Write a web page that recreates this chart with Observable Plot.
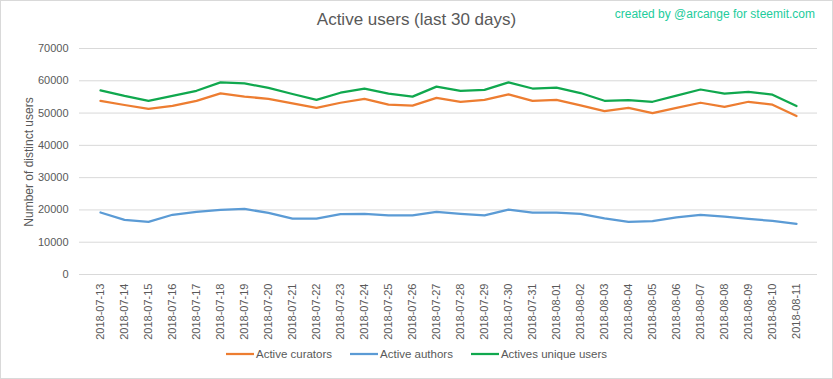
<!DOCTYPE html>
<html><head><meta charset="utf-8">
<script src="https://cdn.jsdelivr.net/npm/d3@7"></script>
<script src="https://cdn.jsdelivr.net/npm/@observablehq/plot@0.6"></script>
<style>
body{margin:0;background:#fff;}
#chart{position:relative;width:833px;height:379px;font-family:"Liberation Sans",Arial,sans-serif;overflow:hidden;background:#fff}
#frame{position:absolute;left:0;top:0;width:833px;height:379px;box-sizing:border-box;border:1px solid #d9d9d9;pointer-events:none}
#title{position:absolute;left:0;width:833px;top:10px;text-align:center;font-size:17px;color:#595959}
#credit{position:absolute;right:18px;top:7px;font-size:12px;color:#22cc9c}
#plot{position:absolute;left:0;top:0}
#ylabel{position:absolute;left:29px;top:162px;transform:translate(-50%,-50%) rotate(-90deg);white-space:nowrap;font-size:12px;color:#595959}
#legend{position:absolute;top:348px;left:0;width:833px;display:flex;justify-content:center;gap:18px;font-size:11.5px;color:#595959;align-items:center}
#legend .item{display:flex;align-items:center;gap:2px}
</style></head><body>
<div id="chart">
<div id="plot"></div>
<div id="title">Active users (last 30 days)</div>
<div id="credit">created by @arcange for steemit.com</div>
<div id="ylabel">Number of distinct users</div>
<div id="legend"></div>
<div id="frame"></div>
</div>
<script>
const dates = ["2018-07-13","2018-07-14","2018-07-15","2018-07-16","2018-07-17","2018-07-18","2018-07-19","2018-07-20","2018-07-21","2018-07-22","2018-07-23","2018-07-24","2018-07-25","2018-07-26","2018-07-27","2018-07-28","2018-07-29","2018-07-30","2018-07-31","2018-08-01","2018-08-02","2018-08-03","2018-08-04","2018-08-05","2018-08-06","2018-08-07","2018-08-08","2018-08-09","2018-08-10","2018-08-11"];
const curators = [53800,52500,51300,52200,53800,56100,55100,54400,53000,51600,53200,54400,52600,52300,54700,53500,54100,55800,53800,54100,52400,50600,51600,50000,51600,53200,51900,53500,52600,49100];
const authors = [19200,16900,16300,18500,19400,20000,20300,19100,17300,17300,18700,18800,18300,18300,19400,18800,18300,20100,19200,19200,18800,17400,16300,16500,17700,18500,17900,17200,16600,15700];
const uniqueUsers = [57000,55300,53800,55300,56900,59500,59200,57800,55900,54100,56300,57600,56000,55100,58200,56900,57200,59500,57600,57900,56200,53800,54000,53500,55400,57300,56000,56600,55700,52200];
const yTicks = [0,10000,20000,30000,40000,50000,60000,70000];
const seriesNames = ["Active curators","Active authors","Actives unique users"];
const seriesColors = ["#ed7d31","#5b9bd5","#10a84e"];

const seriesValues = [curators, authors, uniqueUsers];
const data = [];
seriesNames.forEach((name, s) => {
  dates.forEach((d, i) => data.push({date: d, value: seriesValues[s][i], series: name}));
});

const chart = Plot.plot({
  width: 833,
  height: 340,
  marginTop: 48,
  marginBottom: 66,
  marginLeft: 79,
  marginRight: 16,
  style: {fontFamily: "'Liberation Sans', Arial, sans-serif", fontSize: "11px", color: "#595959", background: "transparent", overflow: "visible"},
  x: {type: "point", domain: dates, padding: 0.5, label: null, tickRotate: -90, tickSize: 0, tickPadding: 9},
  y: {domain: [0, 70000], ticks: yTicks, label: null, tickSize: 0, tickPadding: 11, tickFormat: d => String(d)},
  color: {domain: seriesNames, range: seriesColors},
  marks: [
    Plot.ruleY(yTicks, {stroke: "#d9d9d9", strokeWidth: 1}),
    Plot.line(data, {x: "date", y: "value", z: "series", stroke: "series", strokeWidth: 2.25, strokeLinejoin: "round", strokeLinecap: "round"})
  ]
});
document.getElementById("plot").appendChild(chart);

const legend = document.getElementById("legend");
seriesNames.forEach((name, i) => {
  const item = document.createElement("div");
  item.className = "item";
  item.innerHTML = `<svg width="28" height="6"><line x1="0" x2="28" y1="3" y2="3" stroke="${seriesColors[i]}" stroke-width="2.25"/></svg><span>${name}</span>`;
  legend.appendChild(item);
});
</script>
</body></html>
